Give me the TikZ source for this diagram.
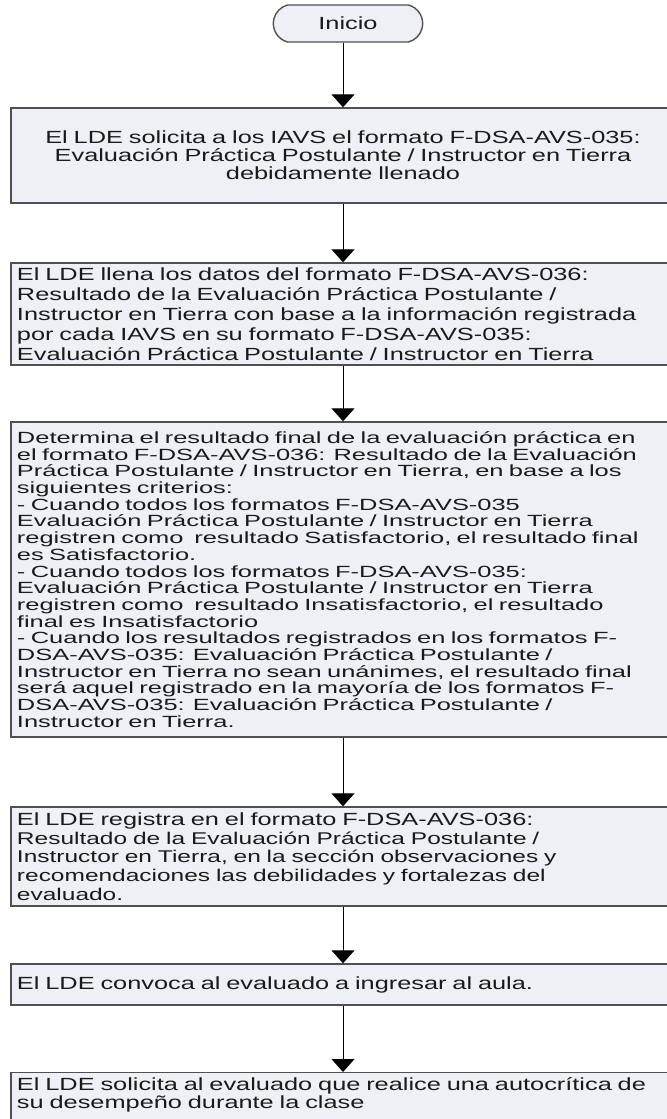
\documentclass[tikz,border=0pt]{standalone}
\usepackage{fontspec}
\setmainfont{Liberation Sans}[FakeStretch=1.44]
\newfontfamily\densefont{Liberation Sans}[FakeStretch=1.57]
\usetikzlibrary{arrows.meta,shapes.misc}
\definecolor{boxfill}{HTML}{EEF0F5}
\definecolor{boxline}{HTML}{505050}
\definecolor{txt}{HTML}{1A1A1A}
\newcommand{\fsz}[1]{\fontsize{17.6bp}{#1bp}\selectfont}
\begin{document}
\begin{tikzpicture}[x=1bp,y=-1bp,
  procbox/.style={draw=boxline, line width=1.4bp, fill=boxfill, text=txt,
    minimum width=664bp, inner xsep=6bp, inner ysep=4bp, text width=652bp,
    align=left},
  termbox/.style={draw=boxline, line width=1.4bp, fill=boxfill, text=txt,
    rounded rectangle, rounded rectangle arc length=150, minimum width=156bp, minimum height=37bp,
    font=\fsz{20}},
  flow/.style={draw=black, line width=0.9bp,
    -{Triangle[width=23bp,length=13bp]}}]
\useasboundingbox (0,0) rectangle (667,1119);
\fill[white] (0,0) rectangle (667,1119);

\node[termbox] (start) at (348,23.5) {Inicio};

\node[procbox, align=center, minimum height=95bp, font=\fsz{18}] (b1) at (343,155.5)
 {El LDE solicita a los IAVS el formato F-DSA-AVS-035:\\
  Evaluación Práctica Postulante / Instructor en Tierra\\
  debidamente llenado};

\node[procbox, minimum height=102bp, font=\fsz{20}] (b2) at (343,314)
 {El LDE llena los datos del formato F-DSA-AVS-036:\\
  Resultado de la Evaluación Práctica Postulante /\\
  Instructor en Tierra con base a la información registrada\\
  por cada IAVS en su formato F-DSA-AVS-035:\\
  Evaluación Práctica Postulante / Instructor en Tierra};

\node[procbox, minimum height=315bp, font=\densefont\fontsize{16.2bp}{16.7bp}\selectfont] (b3) at (343,579.5)
 {Determina el resultado final de la evaluación práctica en\\
  el formato F-DSA-AVS-036: Resultado de la Evaluación\\
  Práctica Postulante / Instructor en Tierra, en base a los\\
  siguientes criterios:\\
  - Cuando todos los formatos F-DSA-AVS-035\\
  Evaluación Práctica Postulante / Instructor en Tierra\\
  registren como \ resultado Satisfactorio, el resultado final\\
  es Satisfactorio.\\
  - Cuando todos los formatos F-DSA-AVS-035:\\
  Evaluación Práctica Postulante / Instructor en Tierra\\
  registren como \ resultado Insatisfactorio, el resultado\\
  final es Insatisfactorio\\
  - Cuando los resultados registrados en los formatos F-\\
  DSA-AVS-035: Evaluación Práctica Postulante /\\
  Instructor en Tierra no sean unánimes, el resultado final\\
  será aquel registrado en la mayoría de los formatos F-\\
  DSA-AVS-035: Evaluación Práctica Postulante /\\
  Instructor en Tierra.};

\node[procbox, minimum height=99bp, font=\fsz{18.7}] (b4) at (343,856.5)
 {El LDE registra en el formato F-DSA-AVS-036:\\
  {\fontsize{17bp}{18.7bp}\selectfont Resultado de la Evaluación Práctica Postulante /}\\
  {\fontsize{17bp}{18.7bp}\selectfont Instructor en Tierra, en la sección observaciones y}\\
  {\fontsize{17bp}{18.7bp}\selectfont recomendaciones las debilidades y fortalezas del}\\
  {\fontsize{17bp}{18.7bp}\selectfont evaluado.}};

\node[procbox, minimum height=41bp, font=\fsz{20}] (b5) at (343,984.5)
 {El LDE convoca al evaluado a ingresar al aula.};

\node[procbox, anchor=north, inner ysep=5bp, text depth=30bp, font=\fsz{18}] (b6) at (343,1072)
 {El LDE solicita al evaluado que realice una autocrítica de\\
  su desempeño durante la clase};

\draw[flow] (start.south -| b1.north) -- (b1.north);
\draw[flow] (b1) -- (b2);
\draw[flow] (b2) -- (b3);
\draw[flow] (b3) -- (b4);
\draw[flow] (b4) -- (b5);
\draw[flow] (b5) -- (b6);
\end{tikzpicture}
\end{document}
